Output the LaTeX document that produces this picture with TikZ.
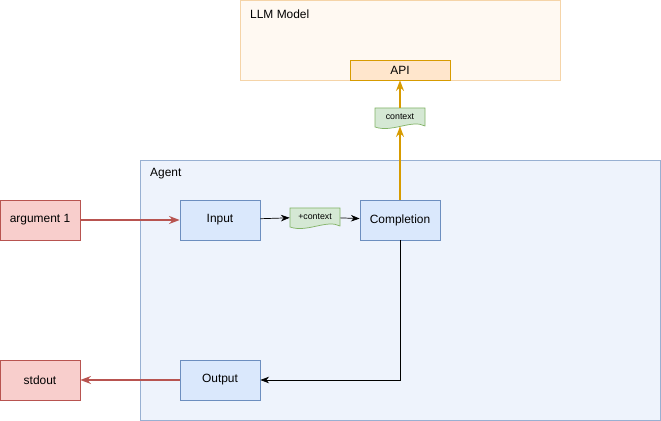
\documentclass[tikz,border=0pt]{standalone}
\usepackage{fontspec}
\setmainfont{Liberation Sans}
\usetikzlibrary{positioning,arrows.meta,calc}
\definecolor{bluefill}{HTML}{DAE8FC}
\definecolor{blueline}{HTML}{6C8EBF}
\definecolor{redfill}{HTML}{F8CECC}
\definecolor{redline}{HTML}{B85450}
\definecolor{greenfill}{HTML}{D5E8D4}
\definecolor{greenline}{HTML}{82B366}
\definecolor{orangefill}{HTML}{FFE6CC}
\definecolor{orangeline}{HTML}{D79B00}
\definecolor{agentfill}{HTML}{EEF3FC}
\definecolor{llmfill}{HTML}{FFF9F2}
\definecolor{llmline}{HTML}{F5D4A8}
\begin{document}
\begin{tikzpicture}[
        x=0.02cm, y=-0.02cm,
        stage/.style={rectangle, draw=blueline, fill=bluefill, minimum width=1.6cm, minimum height=0.8cm, font=\fontsize{6.8}{8}\selectfont},
        io/.style={rectangle, draw=redline, fill=redfill, minimum width=1.6cm, minimum height=0.8cm, font=\fontsize{6.8}{8}\selectfont},
        doc/.style={minimum width=1cm, minimum height=0.36cm, inner sep=0pt, font=\fontsize{5}{6}\selectfont},
        arrow/.style={-{Stealth[length=5pt]}, thin},
        redarrow/.style={-{Stealth[length=6pt]}, draw=redline, line width=1pt},
        orangearrow/.style={-{Stealth[length=6pt]}, draw=orangeline, line width=1pt}
    ]
    \useasboundingbox (0,0) rectangle (661,421);

    % LLM Model container
    \draw[draw=llmline, fill=llmfill] (240,0.5) rectangle (560,80);
    \node[anchor=west, font=\fontsize{6.8}{8}\selectfont] (llm) at (244,14) {LLM Model};
    \node[rectangle, draw=orangeline, fill=orangefill, minimum width=2cm, minimum height=0.4cm, font=\fontsize{6.8}{8}\selectfont] (api) at (400,70) {API};

    % Agent container
    \draw[draw=blueline!70, fill=agentfill] (140,160) rectangle (660,420);
    \node[anchor=west, font=\fontsize{6.8}{8}\selectfont] (agent) at (144,174) {Agent};

    % Stages
    \node[stage] (input) at (220,220) {Input};
    \node[stage] (completion) at (400,220) {Completion};
    \node[stage] (output) at (220,380) {Output};
    \node[io] (arg) at (40,220) {argument 1};
    \node[io] (stdout) at (40,380) {stdout};

    % Documents
    \coordinate (plusctx) at (315,217);
    \coordinate (ctx) at (400,117);
    \foreach \d in {plusctx, ctx} {
        \draw[draw=greenline, fill=greenfill]
            ($(\d)+(-25,-9)$) -- ($(\d)+(25,-9)$) -- ($(\d)+(25,9)$)
            .. controls ($(\d)+(12,2)$) and ($(\d)+(-8,16)$) .. ($(\d)+(-25,10)$) -- cycle;
    }
    \node[doc] (plusctxdoc) at (plusctx) {+context};
    \node[doc] (ctxdoc) at (ctx) {context};

    % Arrows
    \draw[redarrow] (arg) -- (input);
    \draw[redarrow] (output) -- (stdout);
    \draw[arrow] (input) -- (plusctxdoc);
    \draw[arrow] (plusctxdoc) -- (completion);
    \draw[orangearrow] (completion) -- (ctxdoc);
    \draw[orangearrow] (ctxdoc) -- (api);
    \draw[arrow] (completion.south) |- (output.east);

\end{tikzpicture}
\end{document}
